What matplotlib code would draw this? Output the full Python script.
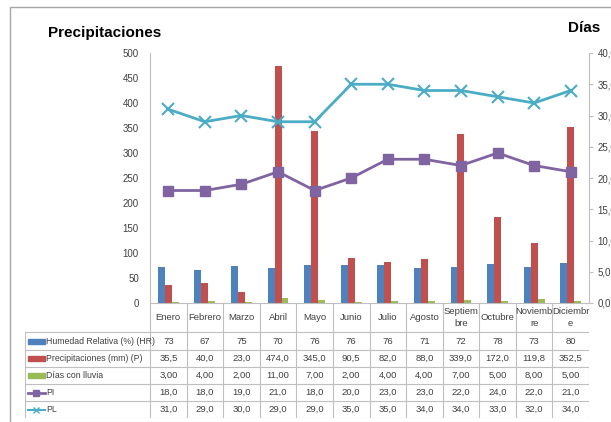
import matplotlib.pyplot as plt
import numpy as np
from matplotlib.patches import Rectangle

plt.rcParams['font.family'] = ['Liberation Sans', 'DejaVu Sans']

# datos mensuales
meses = ['Enero', 'Febrero', 'Marzo', 'Abril', 'Mayo', 'Junio', 'Julio',
         'Agosto', 'Septiem\nbre', 'Octubre', 'Noviemb\nre', 'Diciembr\ne']
hr = [73, 67, 75, 70, 76, 76, 76, 71, 72, 78, 73, 80]
precip = [35.5, 40.0, 23.0, 474.0, 345.0, 90.5, 82.0, 88.0, 339.0, 172.0, 119.8, 352.5]
dias_lluvia = [3, 4, 2, 11, 7, 2, 4, 4, 7, 5, 8, 5]
pi = [18, 18, 19, 21, 18, 20, 23, 23, 22, 24, 22, 21]
pl = [31, 29, 30, 29, 29, 35, 35, 34, 34, 33, 32, 34]

filas = ['Humedad Relativa (%) (HR)', 'Precipitaciones (mm) (P)', 'Días con lluvia', 'PI', 'PL']
azul, rojo, verde, morado, celeste = '#4F81BD', '#C0504D', '#9BBB59', '#8064A2', '#4BACC6'
gris = '#BFBFBF'
txt = '#404040'

W, H = 611, 422
fig = plt.figure(figsize=(W / 100, H / 100), dpi=100)

def px(x0, y0, x1, y1):
    # rectangulo en pixeles (origen arriba a la izquierda) -> fraccion de figura
    return [x0 / W, 1 - y1 / H, (x1 - x0) / W, (y1 - y0) / H]

# marco del grafico
fig.patches.append(Rectangle((10 / W, -0.1), 1.1, 1 - 7 / H + 0.1,
                             transform=fig.transFigure, fill=False,
                             edgecolor='#A6A6A6', lw=1))

L, R, T, B = 150, 589, 53, 303
ax = fig.add_axes(px(L, T, R, B))
x = np.arange(12)
bw = 0.19
ax.bar(x - bw, hr, bw, color=azul)
ax.bar(x, precip, bw, color=rojo)
ax.bar(x + bw, dias_lluvia, bw, color=verde)
ax.set_xlim(-0.5, 11.5)
ax.set_ylim(0, 500)
ax.set_yticks(np.arange(0, 501, 50))
ax.set_xticks([])
ax.tick_params(axis='y', length=0, labelsize=7, labelcolor=txt, pad=8)
for s in ['top', 'right']:
    ax.spines[s].set_visible(False)
ax.spines['left'].set_color(gris)
ax.spines['bottom'].set_color(gris)
ax.patch.set_alpha(0)

ax2 = ax.twinx()
ax2.plot(x, pi, color=morado, lw=2, marker='s', ms=7)
ax2.plot(x, pl, color=celeste, lw=2, marker='x', ms=8, mew=1.5)
ax2.set_ylim(0, 40)
ax2.set_yticks(np.arange(0, 41, 5))
ax2.set_yticklabels([f'{v:.1f}'.replace('.', ',') for v in np.arange(0, 41, 5)])
ax2.tick_params(axis='y', length=3, color=gris, labelsize=7, labelcolor=txt, pad=3)
for s in ['top', 'left', 'bottom']:
    ax2.spines[s].set_visible(False)
ax2.spines['right'].set_color(gris)

fig.text(48 / W, 1 - 33 / H, 'Precipitaciones', fontsize=11, fontweight='bold',
         va='center', ha='left', color='#000000')
fig.text(568 / W, 1 - 28 / H, 'Días', fontsize=11, fontweight='bold',
         va='center', ha='left', color='#000000')

# tabla de datos bajo el eje
col = (R - L) / 12
TL, TB = 25, 418
tab = fig.add_axes(px(TL, B, R, TB))
x_leg = -0.5 - (L - TL) / col
tab.set_xlim(x_leg, 11.5)
tab.set_ylim(TB, B)
tab.axis('off')
lineas_y = [332, 350, 367, 384, 401, 418]
for y in lineas_y:
    tab.plot([x_leg, 11.5], [y, y], color=gris, lw=0.8)
for k in range(13):
    tab.plot([k - 0.5, k - 0.5], [B, TB], color=gris, lw=0.8)
tab.plot([x_leg, x_leg], [lineas_y[0], TB], color=gris, lw=0.8)

for i, m in enumerate(meses):
    tab.text(i, (B + lineas_y[0]) / 2, m, ha='center', va='center', fontsize=6.8,
             color=txt, linespacing=1.4)

valores = [
    [f'{v:d}' for v in hr],
    [f'{v:.1f}'.replace('.', ',') for v in precip],
    [f'{v:.2f}'.replace('.', ',') for v in dias_lluvia],
    [f'{v:.1f}'.replace('.', ',') for v in pi],
    [f'{v:.1f}'.replace('.', ',') for v in pl],
]
for r in range(5):
    yc = (lineas_y[r] + lineas_y[r + 1]) / 2
    for i in range(12):
        tab.text(i, yc, valores[r][i], ha='center', va='center', fontsize=6.8, color=txt)
    tab.text(x_leg + 0.58, yc, filas[r], ha='left', va='center', fontsize=6.3, color=txt)

# claves de la leyenda
kx0, kx1 = x_leg + 0.07, x_leg + 0.55
for r, c in enumerate([azul, rojo, verde]):
    yc = (lineas_y[r] + lineas_y[r + 1]) / 2
    tab.add_patch(Rectangle((kx0, yc - 2.5), kx1 - kx0, 5, color=c))
yc = (lineas_y[3] + lineas_y[4]) / 2
tab.plot([kx0, kx1], [yc, yc], color=morado, lw=2)
tab.plot([(kx0 + kx1) / 2], [yc], color=morado, marker='s', ms=5)
yc = (lineas_y[4] + lineas_y[5]) / 2
tab.plot([kx0, kx1], [yc, yc], color=celeste, lw=1.5)
tab.plot([(kx0 + kx1) / 2], [yc], color=celeste, marker='x', ms=5, mew=1)

fig.savefig('out.png', dpi=100)
